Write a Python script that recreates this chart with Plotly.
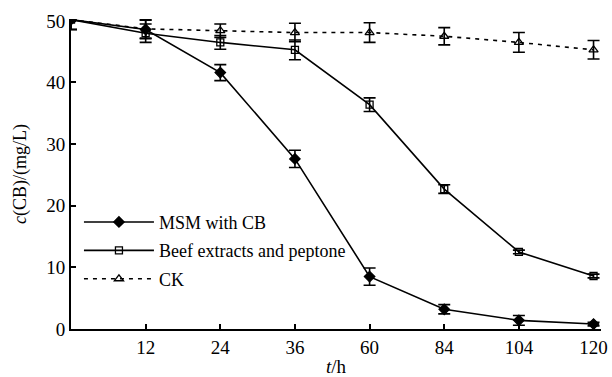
import plotly.graph_objects as go

times = ["0", "12", "24", "36", "60", "84", "104", "120"]
tick_labels = ["12", "24", "36", "60", "84", "104", "120"]

msm = [50.2, 48.6, 41.6, 27.6, 8.5, 3.2, 1.4, 0.8]
msm_err = [1.6, 1.5, 1.3, 1.4, 1.4, 0.75, 0.8, 0.3]

beef = [50.2, 48.0, 46.5, 45.3, 36.4, 22.7, 12.5, 8.6]
beef_err = [1.6, 1.5, 1.1, 1.6, 1.1, 0.7, 0.3, 0.3]

ck = [50.2, 48.7, 48.4, 48.1, 48.1, 47.5, 46.5, 45.3]
ck_err = [1.6, 1.5, 1.1, 1.5, 1.6, 1.4, 1.6, 1.5]

names = ["MSM with CB", "Beef extracts and peptone", "CK"]

FONT = "Liberation Serif, Times New Roman, serif"

fig = go.Figure()

def add(y, err, name, symbol, dash, size):
    fig.add_trace(go.Scatter(
        x=times, y=y, name=name, mode="lines+markers", legendgroup=name,
        line=dict(color="black", width=1.6, dash=dash),
        marker=dict(symbol=symbol, size=size, color="black",
                    line=dict(color="black", width=1.3)),
        error_y=dict(type="data", array=err, visible=True, color="black",
                     thickness=1.6, width=6),
    ))

add(msm, msm_err, names[0], "diamond", "solid", 8)
add(beef, beef_err, names[1], "square-open", "solid", 7)
add(ck, ck_err, names[2], "triangle-up-open", "4px,5px", 8)

fig.update_layout(
    width=612, height=377,
    margin=dict(l=71, r=11, t=19, b=48),
    paper_bgcolor="white", plot_bgcolor="white",
    font=dict(family=FONT, size=19, color="black"),
    showlegend=True,
    legend=dict(x=0.015, y=0.404, xanchor="left", yanchor="top",
                bgcolor="rgba(0,0,0,0)", font=dict(size=18, color="black"),
                tracegroupgap=2, itemwidth=70),
    xaxis=dict(
        type="category", categoryorder="array", categoryarray=times,
        range=[0, 7.1], showline=True, linecolor="black", linewidth=2,
        ticks="inside", ticklen=5, tickwidth=1.5, tickcolor="black",
        tickvals=tick_labels, ticktext=tick_labels,
        showgrid=False, zeroline=False, automargin=False,
        title=dict(text="<i>t</i>/h", standoff=10, font=dict(size=19, color="black")),
    ),
    yaxis=dict(
        range=[0, 50.3], showline=True, linecolor="black", linewidth=2,
        ticks="inside", ticklen=5, tickwidth=1.5, tickcolor="black",
        tickvals=[0, 10, 20, 30, 40, 50],
        showgrid=False, zeroline=False, automargin=False,
        title=dict(text="<i>c</i>(CB)/(mg/L)", standoff=15, font=dict(size=18, color="black")),
    ),
)

fig.write_html(
    "out.html",
    config={"displayModeBar": False},
    post_script="document.body.style.margin='0';document.body.style.overflow='hidden';",
)
